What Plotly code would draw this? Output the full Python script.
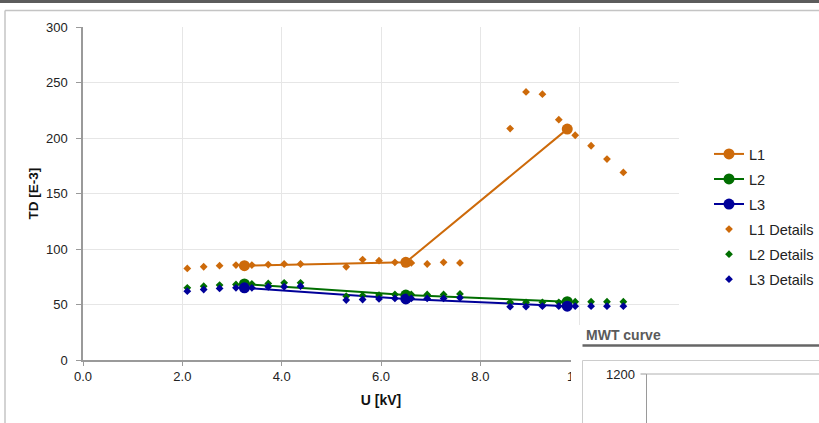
import plotly.graph_objects as go

# ---------------- data ----------------
u_main = [3.25, 6.5, 9.75]
td_l1 = [85, 88, 208]
td_l2 = [68.5, 58.5, 52.5]
td_l3 = [65, 55, 48.5]

u_details = [2.1, 2.43, 2.75, 3.08, 3.4, 3.73, 4.05, 4.38,
             5.3, 5.63, 5.96, 6.28, 6.61, 6.93, 7.26, 7.59,
             8.6, 8.92, 9.25, 9.58, 9.91, 10.23, 10.55, 10.88]
td_l1_details = [82.5, 84, 85, 85.5, 85.5, 86, 86.5, 86.5,
                 84, 90.5, 89.5, 88, 87.5, 86.5, 88, 87.5,
                 208.5, 241.5, 239.5, 216.5, 202.5, 193, 181, 169]
td_l2_details = [65, 66.5, 67.5, 68, 68.5, 69, 69.5, 69.5,
                 57.5, 58, 58.5, 59, 59, 59, 59, 59.5,
                 52, 52, 52, 52, 52.5, 52.5, 52.5, 52.5]
td_l3_details = [62, 63.5, 64.5, 65, 65, 66, 66, 66.5,
                 54, 54.5, 55, 55.5, 55.5, 55.5, 55.5, 56,
                 48, 48, 48.5, 48.5, 48.5, 48.5, 48.5, 48.5]

x_ticks = [0, 2, 4, 6, 8, 10, 12]
y_ticks = [0, 50, 100, 150, 200, 250, 300]
mwt_title = "MWT curve"
mwt_ticks = [1200, 1000]

# ---------------- style ----------------
C1, C2, C3 = "#CD6A0A", "#006E00", "#000099"
FONT = "Liberation Sans, Arial, sans-serif"
W, H = 819, 423
ML, MR, MT, MB = 83, 140, 27, 63
PW, PH = W - ML - MR, H - MT - MB


def px(x):
    return (x - ML) / PW


def py(y):
    return (H - MB - y) / PH


fig = go.Figure()
for name, ys, c in [("L1", td_l1, C1), ("L2", td_l2, C2), ("L3", td_l3, C3)]:
    fig.add_trace(go.Scatter(x=u_main, y=ys, name=name, mode="lines+markers",
                             line=dict(color=c, width=2),
                             marker=dict(color=c, size=11, symbol="circle"),
                             legendgroup=name))
for name, ys, c in [("L1 Details", td_l1_details, C1),
                    ("L2 Details", td_l2_details, C2),
                    ("L3 Details", td_l3_details, C3)]:
    fig.add_trace(go.Scatter(x=u_details, y=ys, name=name, mode="markers",
                             marker=dict(color=c, size=6, symbol="diamond"),
                             legendgroup=name))

shapes = []
# top dark bar
shapes.append(dict(type="rect", xref="paper", yref="paper", x0=px(-5), x1=px(W + 5),
                   y0=py(0 - 5), y1=py(3), fillcolor="#5c5c5c", line=dict(width=0), layer="above"))
# container border
shapes.append(dict(type="line", xref="paper", yref="paper", x0=px(5), x1=px(5),
                   y0=py(10.5), y1=py(H + 10), line=dict(color="#c4c4c4", width=1.5), layer="below"))
shapes.append(dict(type="line", xref="paper", yref="paper", x0=px(5), x1=px(W + 10),
                   y0=py(10.5), y1=py(10.5), line=dict(color="#c4c4c4", width=1.5), layer="below"))
# overlapping MWT panel
shapes.append(dict(type="rect", xref="paper", yref="paper", x0=px(571), x1=px(W + 20),
                   y0=py(325), y1=py(H + 20), fillcolor="white", line=dict(width=0), layer="above"))
shapes.append(dict(type="line", xref="paper", yref="paper", x0=px(582.5), x1=px(W + 20),
                   y0=py(345.5), y1=py(345.5), line=dict(color="#666666", width=2.5), layer="above"))
shapes.append(dict(type="rect", xref="paper", yref="paper", x0=px(582.5), x1=px(W + 20),
                   y0=py(360.5), y1=py(H + 20), fillcolor="rgba(0,0,0,0)",
                   line=dict(color="#cccccc", width=1), layer="above"))
mwt_top = 374
mwt_scale = 0.27
shapes.append(dict(type="line", xref="paper", yref="paper", x0=px(646.5), x1=px(646.5),
                   y0=py(mwt_top), y1=py(H + 20), line=dict(color="#9a9a9a", width=1), layer="above"))
shapes.append(dict(type="line", xref="paper", yref="paper", x0=px(646.5), x1=px(W + 20),
                   y0=py(mwt_top), y1=py(mwt_top), line=dict(color="#b0b0b0", width=1), layer="above"))
annotations = [dict(text="<b>" + mwt_title + "</b>", xref="paper", yref="paper",
                    x=px(584), y=py(335), xanchor="left", yanchor="middle", showarrow=False,
                    font=dict(family=FONT, size=14, color="#5a5a5a"))]
for t in mwt_ticks:
    yy = mwt_top + (mwt_ticks[0] - t) * mwt_scale
    shapes.append(dict(type="line", xref="paper", yref="paper", x0=px(640.5), x1=px(646.5),
                       y0=py(yy), y1=py(yy), line=dict(color="#9a9a9a", width=1), layer="above"))
    annotations.append(dict(text=str(t), xref="paper", yref="paper", x=px(637), y=py(yy),
                            xanchor="right", yanchor="middle", showarrow=False,
                            font=dict(family=FONT, size=13, color="#222222")))

fig.update_layout(
    width=W, height=H, autosize=False,
    margin=dict(l=ML, r=MR, t=MT, b=MB, pad=0),
    paper_bgcolor="white", plot_bgcolor="white",
    font=dict(family=FONT, size=13, color="#222222"),
    showlegend=True,
    legend=dict(xref="container", yref="container",
                x=709 / W, xanchor="left", y=1 - 138 / H, yanchor="top",
                font=dict(family=FONT, size=14.5, color="#222222"),
                tracegroupgap=3.2, traceorder="grouped",
                bgcolor="rgba(0,0,0,0)", borderwidth=0),
    shapes=shapes,
    annotations=annotations,
    xaxis=dict(range=[0, 12], tickvals=x_ticks, tickformat=".1f",
               showgrid=True, gridcolor="#e6e6e6", gridwidth=1,
               showline=True, linecolor="#9a9a9a", linewidth=1.5,
               ticks="outside", ticklen=4, tickcolor="#9a9a9a",
               zeroline=False,
               title=dict(text="<b>U [kV]</b>", font=dict(family=FONT, size=14, color="#111111"),
                          standoff=12)),
    yaxis=dict(range=[0, 300], tickvals=y_ticks,
               showgrid=True, gridcolor="#e6e6e6", gridwidth=1,
               showline=True, linecolor="#9a9a9a", linewidth=1.5,
               ticks="outside", ticklen=5, tickcolor="#9a9a9a",
               ticklabelstandoff=6, zeroline=False,
               title=dict(text="<b>TD [E-3]</b>", font=dict(family=FONT, size=13.5, color="#111111"),
                          standoff=4)),
)

fig.write_html("out.html", config={"displayModeBar": False},
               post_script="document.body.style.margin='0';document.body.style.overflow='hidden';")
